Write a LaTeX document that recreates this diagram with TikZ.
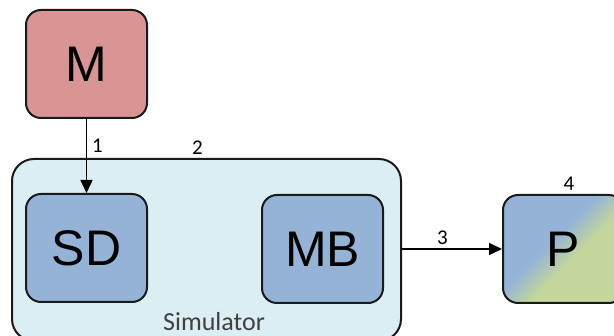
\documentclass[tikz,border=0pt]{standalone}
\usepackage{fontspec}
\setmainfont{Carlito}
\newfontfamily\arialf{Liberation Sans}
\usetikzlibrary{arrows.meta}
\definecolor{mred}{HTML}{D99594}
\definecolor{sdblue}{HTML}{95B3D7}
\definecolor{simblue}{HTML}{DAEEF3}
\definecolor{pgreen}{HTML}{C3D69B}
\definecolor{edgec}{HTML}{1A1A1A}
\pgfdeclarehorizontalshading{pshade}{100bp}{color(0bp)=(sdblue); color(44bp)=(sdblue); color(56bp)=(pgreen); color(100bp)=(pgreen)}
\tikzset{
  box/.style={draw=edgec, line width=2pt, rounded corners=15pt, minimum width=121pt, minimum height=108pt, inner sep=0pt, font=\arialf\fontsize{50}{50}\selectfont},
  num/.style={font=\fontsize{21}{21}\selectfont, inner sep=0pt},
  conn/.style={line width=1.6pt, -{Triangle[length=13pt,width=12pt]}},
}
\begin{document}
\begin{tikzpicture}[x=1pt,y=-1pt]
\useasboundingbox (0,0) rectangle (614,336);
\node[box, fill=simblue, minimum width=389pt, minimum height=182pt, rounded corners=22pt] (Sim) at (206.5,250) {};
\node[box, fill=mred] (M) at (86.5,64) {M};
\node[box, fill=sdblue] (SD) at (86.5,248) {SD};
\node[box, fill=sdblue] (MB) at (322.5,249) {MB};
\node[box, shading=pshade, shading angle=-45] (P) at (563.5,249) {P};
\node[font=\fontsize{26}{26}\selectfont, text=black!75, inner sep=0pt, anchor=base] (simlbl) at (214,330.5) {Simulator};
\draw[conn] (M) -- (SD);
\draw[conn] (Sim.east |- P.west) -- (P.west);
\node[num] (n1) at (97.5,146) {1};
\node[num] (n2) at (197.5,147.5) {2};
\node[num] (n3) at (442.5,237.5) {3};
\node[num] (n4) at (569,184) {4};
\end{tikzpicture}
\end{document}
